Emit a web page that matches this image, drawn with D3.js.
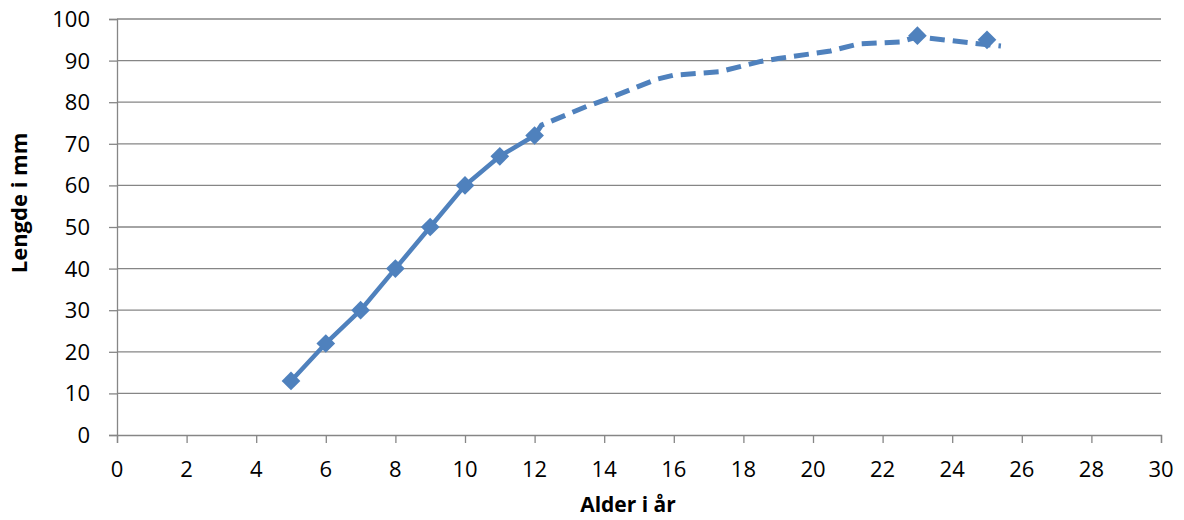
<!DOCTYPE html>
<html>
<head>
<meta charset="utf-8">
<script src="https://cdn.jsdelivr.net/npm/d3@7"></script>
<style>
  body { margin: 0; background: #fff; }
  svg text { font-family: "Open Sans", Lato, sans-serif; fill: #000; }
</style>
</head>
<body>
<svg id="chart"></svg>
<script>
// Measured ages and lengths (solid part)
var ages = [5, 6, 7, 8, 9, 10, 11, 12];
var lengths = [13, 22, 30, 40, 50, 60, 67, 72];

// Dashed continuation
var dashAges = [12, 12.2, 13.5, 14, 15.5, 16, 17.3, 18.5, 19, 20.5, 21.3, 22.5, 23, 24.6, 25.4];
var dashLengths = [72, 74.5, 79, 80.5, 85.5, 86.5, 87.3, 89.8, 90.5, 92.3, 94, 94.5, 95.7, 94.2, 93.5];

// Extra markers on the dashed part
var extraAges = [23, 25];
var extraLengths = [96, 95];

var xTicks = d3.range(0, 31, 2);
var yTicks = d3.range(0, 101, 10);

var width = 1184, height = 520;
var margin = { top: 19, right: 23, bottom: 85, left: 117 };
var blue = "#4f81bd";
var grey = "#868686";

var svg = d3.select("#chart")
  .attr("width", width)
  .attr("height", height);

var x = d3.scaleLinear().domain([0, 30]).range([margin.left, width - margin.right]);
var y = d3.scaleLinear().domain([0, 100]).range([height - margin.bottom, margin.top]);

// horizontal gridlines
svg.append("g")
  .selectAll("line")
  .data(yTicks.slice(1))
  .join("line")
  .attr("x1", x(0)).attr("x2", x(30))
  .attr("y1", d => y(d)).attr("y2", d => y(d))
  .attr("stroke", grey)
  .attr("stroke-width", 1.3);

// axes (lines and ticks from d3, labels drawn separately)
var yAxis = svg.append("g")
  .attr("transform", `translate(${x(0)},0)`)
  .call(d3.axisLeft(y).tickValues(yTicks).tickSize(8).tickFormat(""));

var xAxis = svg.append("g")
  .attr("transform", `translate(0,${y(0)})`)
  .call(d3.axisBottom(x).tickValues(xTicks).tickSize(8).tickFormat(""));

[xAxis, yAxis].forEach(a => {
  a.select(".domain").attr("stroke", grey).attr("stroke-width", 1.3);
  a.selectAll(".tick line").attr("stroke", grey).attr("stroke-width", 1.3);
});

svg.append("g")
  .selectAll("text")
  .data(yTicks)
  .join("text")
  .attr("x", x(0) - 27)
  .attr("y", d => y(d))
  .attr("dy", "0.36em")
  .attr("text-anchor", "end")
  .style("font-size", "22px")
  .text(d => d);

svg.append("g")
  .selectAll("text")
  .data(xTicks)
  .join("text")
  .attr("x", d => x(d))
  .attr("y", y(0) + 42)
  .attr("text-anchor", "middle")
  .style("font-size", "22px")
  .text(d => d);

var line = d3.line()
  .x(d => x(d[0]))
  .y(d => y(d[1]));

var solid = ages.map((a, i) => [a, lengths[i]]);
var dashed = dashAges.map((a, i) => [a, dashLengths[i]]);
var extra = extraAges.map((a, i) => [a, extraLengths[i]]);

svg.append("path")
  .datum(dashed)
  .attr("d", line)
  .attr("fill", "none")
  .attr("stroke", blue)
  .attr("stroke-width", 5)
  .attr("stroke-dasharray", "15 8");

svg.append("path")
  .datum(solid)
  .attr("d", line)
  .attr("fill", "none")
  .attr("stroke", blue)
  .attr("stroke-width", 4.5)
  .attr("stroke-linejoin", "round");

// diamond markers
svg.append("g")
  .selectAll("path")
  .data(solid.concat(extra))
  .join("path")
  .attr("transform", d => `translate(${x(d[0])},${y(d[1])}) rotate(45)`)
  .attr("d", d3.symbol().type(d3.symbolSquare).size(175))
  .attr("fill", blue);

// axis titles
svg.append("text")
  .attr("x", 628)
  .attr("y", 512)
  .attr("text-anchor", "middle")
  .style("font-size", "21px")
  .attr("font-weight", "bold")
  .text("Alder i år");

svg.append("text")
  .attr("transform", "translate(27,203) rotate(-90)")
  .attr("text-anchor", "middle")
  .style("font-size", "22px")
  .attr("font-weight", "bold")
  .text("Lengde i mm");
</script>
</body>
</html>
